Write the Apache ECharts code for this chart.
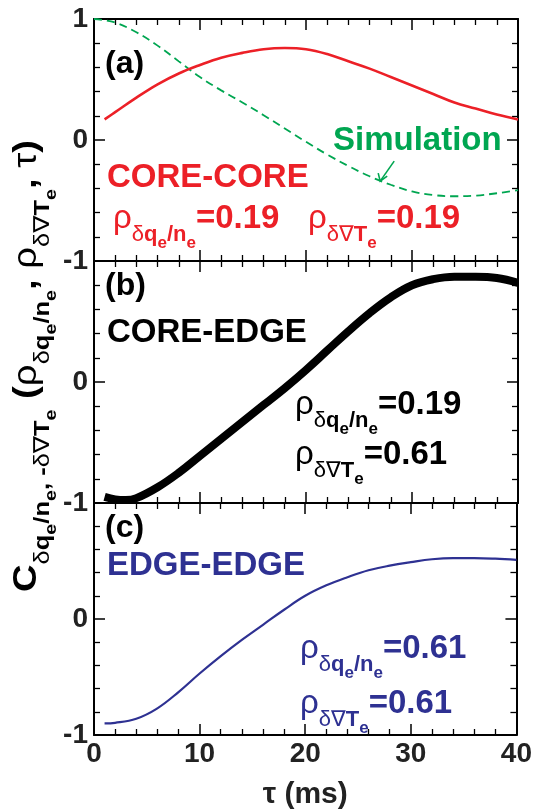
<!DOCTYPE html>
<html>
<head>
<meta charset="utf-8">
<script src="https://cdn.jsdelivr.net/npm/echarts@6/dist/echarts.min.js"></script>
<style>
  html, body { margin: 0; padding: 0; background: #fff; }
  #chart { width: 535px; height: 811px; }
</style>
</head>
<body>
<div id="chart"></div>
<script>
// Cross-correlation functions C(τ) for three probe pairs (τ in ms)
const tauCoreCore  = [1, 2, 4, 6, 8, 10, 12, 14, 16, 18, 20, 22, 24, 26, 28, 30, 32, 34, 36, 38, 40];
const corrCoreCore = [0.17, 0.23, 0.35, 0.46, 0.55, 0.62, 0.68, 0.72, 0.75, 0.76, 0.75, 0.71, 0.65, 0.59, 0.52, 0.45, 0.38, 0.31, 0.26, 0.21, 0.17];

const tauSim  = [0, 2, 4, 6, 8, 10, 12, 14, 16, 18, 20, 22, 24, 26, 28, 30, 32, 34, 36, 38, 40];
const corrSim = [1.0, 0.97, 0.89, 0.78, 0.65, 0.52, 0.41, 0.31, 0.205, 0.095, -0.015, -0.12, -0.215, -0.30, -0.37, -0.425, -0.455, -0.465, -0.46, -0.44, -0.415];

const tauCoreEdge  = [1, 2, 3, 4, 6, 8, 10, 12, 14, 16, 18, 20, 22, 24, 26, 28, 30, 32, 34, 36, 38, 40];
const corrCoreEdge = [-0.95, -0.97, -0.975, -0.96, -0.87, -0.75, -0.61, -0.47, -0.33, -0.19, -0.05, 0.10, 0.26, 0.42, 0.57, 0.70, 0.80, 0.85, 0.87, 0.87, 0.86, 0.82];

const tauEdgeEdge  = [1, 2, 4, 6, 8, 10, 12, 14, 16, 18, 20, 22, 24, 26, 28, 30, 32, 34, 36, 38, 40];
const corrEdgeEdge = [-0.90, -0.895, -0.86, -0.77, -0.63, -0.47, -0.32, -0.18, -0.05, 0.08, 0.20, 0.29, 0.36, 0.42, 0.46, 0.49, 0.515, 0.525, 0.525, 0.52, 0.51];

const panelTags   = ['(a)', '(b)', '(c)'];
const panelNames  = ['CORE-CORE', 'CORE-EDGE', 'EDGE-EDGE'];
const rhoDensity  = ['0.19', '0.19', '0.61'];
const rhoGradient = ['0.19', '0.61', '0.61'];
const simLabel = 'Simulation';
const xTitle = 'τ (ms)';

const RED = '#ec2027', GREEN = '#00a651', BLUE = '#2e3192', BLACK = '#000';
const FONT = "'Liberation Sans', Arial, Helvetica, 'DejaVu Sans', sans-serif";

const grids = [
  { left: 94, width: 424, top: 19,  height: 242 },
  { left: 94, width: 424, top: 261, height: 242 },
  { left: 94, width: 424, top: 503, height: 242 }
];

const tickStyle = {
  axisLine: { show: true, onZero: false, lineStyle: { color: BLACK, width: 2 } },
  axisTick: { show: true, inside: true, length: 11, lineStyle: { color: BLACK, width: 1.5 } },
  minorTick: { show: true, splitNumber: 5, length: 6, lineStyle: { color: BLACK, width: 1.3 } },
  splitLine: { show: false }
};

const xAxes = [], yAxes = [];
grids.forEach((g, i) => {
  ['bottom', 'top'].forEach(pos => {
    xAxes.push(Object.assign({
      type: 'value', gridIndex: i, position: pos, min: 0, max: 40, interval: 10,
      axisLabel: {
        show: pos === 'bottom' && i === 2, margin: 5,
        fontFamily: FONT, fontWeight: 'bold', fontSize: 28, color: '#222'
      },
      name: pos === 'bottom' && i === 2 ? xTitle : '',
      nameLocation: 'middle', nameGap: 45,
      nameTextStyle: { fontFamily: FONT, fontWeight: 'bold', fontSize: 30, color: '#222' }
    }, tickStyle));
  });
  ['left', 'right'].forEach(pos => {
    yAxes.push(Object.assign({
      type: 'value', gridIndex: i, position: pos, min: -1, max: 1, interval: 1,
      axisLabel: {
        show: pos === 'left', margin: 6,
        fontFamily: FONT, fontWeight: 'bold', fontSize: 28, color: '#222',
        formatter: v => (i > 0 && v === 1) ? '' : String(v)
      }
    }, tickStyle));
  });
});

function pairs(xs, ys) { return xs.map((x, k) => [x, ys[k]]); }

const series = [
  { type: 'line', xAxisIndex: 0, yAxisIndex: 0, data: pairs(tauSim, corrSim), smooth: 0.4,
    showSymbol: false, lineStyle: { color: GREEN, width: 1.8, type: [8, 5] }, z: 3 },
  { type: 'line', xAxisIndex: 0, yAxisIndex: 0, data: pairs(tauCoreCore, corrCoreCore), smooth: 0.4,
    showSymbol: false, lineStyle: { color: RED, width: 2.6 }, z: 4 },
  { type: 'line', xAxisIndex: 2, yAxisIndex: 2, data: pairs(tauCoreEdge, corrCoreEdge), smooth: 0.4,
    showSymbol: false, lineStyle: { color: BLACK, width: 8, cap: 'butt' }, z: 4 },
  { type: 'line', xAxisIndex: 4, yAxisIndex: 4, data: pairs(tauEdgeEdge, corrEdgeEdge), smooth: 0.4,
    showSymbol: false, lineStyle: { color: BLUE, width: 2.2 }, z: 4 }
];

// Rich-text styles: main line, first-level subscript, second-level subscript.
// Subscripts are pushed below the main baseline with top padding.
function richStyles(color, main, sub, sub2) {
  const mk = (size, weight, padTop) => ({
    fontFamily: FONT, fontSize: size, fontWeight: weight,
    verticalAlign: 'top', fill: color, padding: [padTop, 0, 0, 0]
  });
  return {
    m:  mk(main, 'bold', 0),
    g:  mk(main, 'normal', 0),
    sg: mk(sub, 'normal', 22),
    s:  mk(sub, 'bold', 22),
    ss: mk(sub2, 'bold', 33)
  };
}
const BASE_OFFSET = 25;   // distance from line top to main baseline

function rhoText(kind, value) {
  if (kind === 'q') return '{g|ρ}{sg|δ}{s|q}{ss|e}{s|/n}{ss|e}{m|=' + value + '}';
  return '{g|ρ}{sg|δ∇}{s|T}{ss|e}{m|=' + value + '}';
}

function richLabel(text, x, baseline, color) {
  return {
    type: 'text', x: x, y: baseline - BASE_OFFSET, z: 20,
    style: {
      text: text, rich: richStyles(color, 33, 22, 17),
      fontFamily: FONT, fontSize: 33, fill: color,
      textAlign: 'left', textVerticalAlign: 'top'
    }
  };
}

function plainLabel(text, x, y, color, size) {
  return {
    type: 'text', x: x, y: y, z: 20,
    style: {
      text: text, fill: color, fontFamily: FONT, fontWeight: 'bold', fontSize: size,
      textAlign: 'left', textVerticalAlign: 'middle'
    }
  };
}

const chart = echarts.init(document.getElementById('chart'), null, { renderer: 'canvas' });
chart.setOption({
  animation: false,
  backgroundColor: '#fff',
  grid: grids,
  xAxis: xAxes,
  yAxis: yAxes,
  series: series
});

// Annotation anchor on the simulation curve (data units)
const arrowTip = chart.convertToPixel({ gridIndex: 0 }, [27, -0.34]);
const tx = arrowTip[0], ty = arrowTip[1];

const yTitle =
  '{m|C}{sg|δ}{s|q}{ss|e}{s|/n}{ss|e}{s|, -}{sg|δ∇}{s|T}{ss|e}' +
  '{m| (}{g|ρ}{sg|δ}{s|q}{ss|e}{s|/n}{ss|e}{m|, }{g|ρ}{sg|δ∇}{s|T}{ss|e}{m|, }{g|τ}{m|)}';

const graphics = [
  plainLabel(panelTags[0], 105, 64, BLACK, 32),
  plainLabel(panelTags[1], 105, 286, BLACK, 32),
  plainLabel(panelTags[2], 105, 528, BLACK, 32),
  plainLabel(panelNames[0], 107, 178, RED, 33),
  plainLabel(panelNames[1], 107, 333, BLACK, 33),
  plainLabel(panelNames[2], 107, 566, BLUE, 33),
  plainLabel(simLabel, 333, 141, GREEN, 33),
  richLabel(rhoText('q', rhoDensity[0]), 113, 227, RED),
  richLabel(rhoText('T', rhoGradient[0]), 308, 227, RED),
  richLabel(rhoText('q', rhoDensity[1]), 295, 413, BLACK),
  richLabel(rhoText('T', rhoGradient[1]), 295, 463, BLACK),
  richLabel(rhoText('q', rhoDensity[2]), 300, 657, BLUE),
  richLabel(rhoText('T', rhoGradient[2]), 300, 712, BLUE),
  {
    type: 'polyline', z: 20,
    shape: { points: [[tx + 14, ty - 20], [tx, ty]] },
    style: { stroke: GREEN, lineWidth: 1.6, fill: null }
  },
  {
    type: 'polyline', z: 20,
    shape: { points: [[tx - 2, ty - 8], [tx, ty], [tx + 7, ty - 5]] },
    style: { stroke: GREEN, lineWidth: 1.6, fill: null }
  },
  {
    type: 'text', x: 10, y: 366, rotation: Math.PI / 2, scaleX: 1.16, z: 20,
    style: {
      text: yTitle, rich: richStyles(BLACK, 33, 22, 17),
      fontFamily: FONT, fontSize: 33, fill: BLACK,
      textAlign: 'center', textVerticalAlign: 'top'
    }
  }
];
chart.setOption({ graphic: { elements: graphics } });
</script>
</body>
</html>
